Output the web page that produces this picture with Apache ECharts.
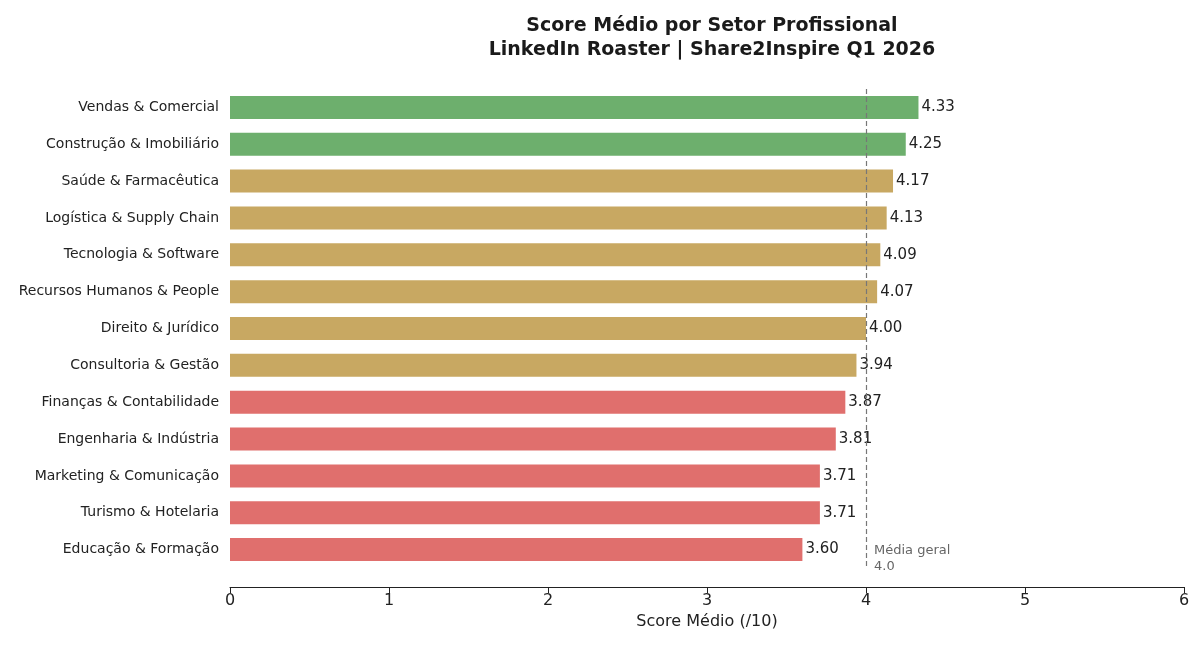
<!DOCTYPE html>
<html><head><meta charset="utf-8">
<script src="https://cdn.jsdelivr.net/npm/echarts@6/dist/echarts.min.js"></script>
<style>html,body{margin:0;background:#fff}#c{width:1200px;height:649px}</style>
</head><body><div id="c"></div>
<script>
var sectors = ['Vendas & Comercial','Construção & Imobiliário','Saúde & Farmacêutica','Logística & Supply Chain','Tecnologia & Software','Recursos Humanos & People','Direito & Jurídico','Consultoria & Gestão','Finanças & Contabilidade','Engenharia & Indústria','Marketing & Comunicação','Turismo & Hotelaria','Educação & Formação'];
var scores = [4.33,4.25,4.17,4.13,4.09,4.07,4.00,3.94,3.87,3.81,3.71,3.71,3.60];
var overallMean = 4.0;
var xTicks = [0,1,2,3,4,5,6];

function colorFor(v) {
  if (v >= 4.2) return '#6daf6d';
  if (v >= 3.9) return '#c8a862';
  return '#e06f6d';
}

var chart = echarts.init(document.getElementById('c'));
chart.setOption({
  animation: false,
  title: {
    text: 'Score Médio por Setor Profissional\nLinkedIn Roaster | Share2Inspire Q1 2026',
    left: 707, textAlign: 'center', top: 9,
    textStyle: { fontSize: 19, fontWeight: 'bold', color: '#1a1a1a', lineHeight: 24, fontFamily: 'DejaVu Sans' }
  },
  grid: { left: 230, right: 16, top: 89, bottom: 81 },
  xAxis: {
    type: 'value', min: 0, max: 6, interval: 1, offset: 19,
    name: 'Score Médio (/10)', nameLocation: 'center', nameGap: 24,
    nameTextStyle: { fontSize: 16, color: '#222', fontFamily: 'DejaVu Sans' },
    axisLine: { show: true, lineStyle: { color: '#222' } },
    axisTick: { show: true, length: 6, lineStyle: { color: '#222' } },
    axisLabel: { fontSize: 16, color: '#222', fontFamily: 'DejaVu Sans', margin: 6,
      formatter: function(v) { return xTicks.indexOf(v) >= 0 ? String(v) : ''; } },
    splitLine: { show: false }
  },
  yAxis: {
    type: 'category', inverse: true, data: sectors,
    axisLine: { show: false }, axisTick: { show: false },
    axisLabel: { fontSize: 14, color: '#222', fontFamily: 'DejaVu Sans', margin: 11 }
  },
  series: [{
    type: 'bar', barWidth: 23,
    data: scores.map(function(v) { return { value: v, itemStyle: { color: colorFor(v) } }; }),
    label: { show: true, position: 'right', distance: 3, fontSize: 15, color: '#222', fontFamily: 'DejaVu Sans',
      formatter: function(p) { return p.value.toFixed(2); } },
    markLine: {
      silent: true, symbol: 'none',
      lineStyle: { color: '#777', type: [5, 3], width: 1.2 },
      label: { show: false },
      data: [{ xAxis: overallMean }]
    }
  }],
  graphic: [{
    type: 'text', left: 874, top: 543,
    style: { text: 'Média geral\n' + overallMean.toFixed(1), fontSize: 13, fill: '#666', lineHeight: 16, fontFamily: 'DejaVu Sans' }
  }]
});
</script></body></html>
